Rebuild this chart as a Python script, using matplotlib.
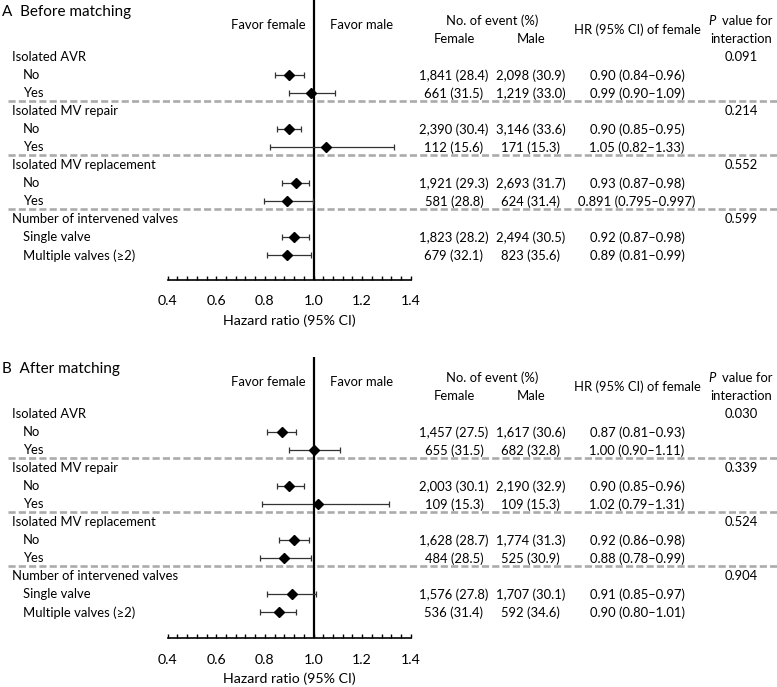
import numpy as np
import matplotlib
matplotlib.use("Agg")
import matplotlib.pyplot as plt
from matplotlib.transforms import blended_transform_factory
from matplotlib.ticker import MultipleLocator, FormatStrFormatter

plt.rcParams["font.family"] = ["Lato", "DejaVu Sans"]

# Row labels (shared by both panels)
row_labels = ["Isolated AVR", "No", "Yes",
              "Isolated MV repair", "No", "Yes",
              "Isolated MV replacement", "No", "Yes",
              "Number of intervened valves", "Single valve", "Multiple valves (\u22652)"]
header_rows = [0, 3, 6, 9]
item_rows = [1, 2, 4, 5, 7, 8, 10, 11]

# Panel A - before matching
hr_a = [0.90, 0.99, 0.90, 1.05, 0.93, 0.891, 0.92, 0.89]
lo_a = [0.84, 0.90, 0.85, 0.82, 0.87, 0.795, 0.87, 0.81]
hi_a = [0.96, 1.09, 0.95, 1.33, 0.98, 0.997, 0.98, 0.99]
female_a = ["1,841 (28.4)", "661 (31.5)", "2,390 (30.4)", "112 (15.6)",
            "1,921 (29.3)", "581 (28.8)", "1,823 (28.2)", "679 (32.1)"]
male_a = ["2,098 (30.9)", "1,219 (33.0)", "3,146 (33.6)", "171 (15.3)",
          "2,693 (31.7)", "624 (31.4)", "2,494 (30.5)", "823 (35.6)"]
hrtxt_a = ["0.90 (0.84\u20130.96)", "0.99 (0.90\u20131.09)", "0.90 (0.85\u20130.95)",
           "1.05 (0.82\u20131.33)", "0.93 (0.87\u20130.98)", "0.891 (0.795\u20130.997)",
           "0.92 (0.87\u20130.98)", "0.89 (0.81\u20130.99)"]
p_a = ["0.091", "0.214", "0.552", "0.599"]

# Panel B - after matching (plotted estimates read from the marks)
hr_b = [0.87, 1.00, 0.90, 1.02, 0.92, 0.88, 0.91, 0.86]
lo_b = [0.81, 0.90, 0.85, 0.79, 0.86, 0.78, 0.81, 0.78]
hi_b = [0.93, 1.11, 0.96, 1.31, 0.98, 0.99, 1.01, 0.93]
female_b = ["1,457 (27.5)", "655 (31.5)", "2,003 (30.1)", "109 (15.3)",
            "1,628 (28.7)", "484 (28.5)", "1,576 (27.8)", "536 (31.4)"]
male_b = ["1,617 (30.6)", "682 (32.8)", "2,190 (32.9)", "109 (15.3)",
          "1,774 (31.3)", "525 (30.9)", "1,707 (30.1)", "592 (34.6)"]
hrtxt_b = ["0.87 (0.81\u20130.93)", "1.00 (0.90\u20131.11)", "0.90 (0.85\u20130.96)",
           "1.02 (0.79\u20131.31)", "0.92 (0.86\u20130.98)", "0.88 (0.78\u20130.99)",
           "0.91 (0.85\u20130.97)", "0.90 (0.80\u20131.01)"]
p_b = ["0.030", "0.339", "0.524", "0.904"]

W, H = 777, 687
fig = plt.figure(figsize=(W / 100, H / 100), dpi=100)

FS = 9.4


def panel(top_px, axis_px, title, hr, lo, hi, fem, mal, hrtxt, pv):
    # axis maps 0.4 -> 167.7 px, 1.4 -> 410.7 px
    row0 = top_px + 57.3
    step = 18.0
    ax = fig.add_axes([167.7 / W, 1 - axis_px / H, 243 / W, (axis_px - top_px) / H])
    ax.set_xlim(0.4, 1.4)
    ax.set_ylim((axis_px - row0) / step, (top_px - row0) / step)
    for s in ["top", "left", "right"]:
        ax.spines[s].set_visible(False)
    ax.spines["bottom"].set_linewidth(1.2)
    ax.set_yticks([])
    ax.xaxis.set_major_locator(MultipleLocator(0.2))
    ax.xaxis.set_minor_locator(MultipleLocator(0.04))
    ax.xaxis.set_major_formatter(FormatStrFormatter("%.1f"))
    ax.tick_params(axis="x", which="both", direction="in", length=3, width=1, pad=11,
                   labelsize=FS + 0.8)
    ax.set_xlabel("Hazard ratio (95% CI)", fontsize=FS + 0.8, labelpad=5)
    ax.patch.set_visible(False)

    ax.axvline(1.0, color="black", lw=1.6, zorder=1)

    y = np.array(item_rows, dtype=float)
    hr = np.array(hr)
    ax.errorbar(hr, y, xerr=[hr - np.array(lo), np.array(hi) - hr], fmt="D",
                color="black", ms=5.5, elinewidth=0.9, capsize=2.5, capthick=0.9,
                ecolor="#333333", zorder=3, clip_on=False)

    tr = blended_transform_factory(fig.transFigure, ax.transData)
    for r, lab in enumerate(row_labels):
        x = 11.7 if r in header_rows else 22.7
        ax.text(x / W, r, lab, transform=tr, ha="left", va="center", fontsize=FS)
    for r, f, m, t in zip(item_rows, fem, mal, hrtxt):
        ax.text(454 / W, r, f, transform=tr, ha="center", va="center", fontsize=FS)
        ax.text(530.7 / W, r, m, transform=tr, ha="center", va="center", fontsize=FS)
        ax.text(637 / W, r, t, transform=tr, ha="center", va="center", fontsize=FS)
    for r, p in zip(header_rows, pv):
        ax.text(741.5 / W, r, p, transform=tr, ha="center", va="center", fontsize=FS)

    # dashed separators
    for r in header_rows[1:]:
        ax.plot([8 / W, 1.0], [r - 0.57, r - 0.57], transform=tr, clip_on=False,
                color="#ababab", lw=1.9, ls=(0, (2.7, 1.2)), zorder=0)

    def yr(px):
        return (px - row0) / step

    ax.text(2 / W, yr(top_px + 12), title, transform=tr, ha="left", va="center",
            fontsize=11)
    ax.text(306 / W, yr(top_px + 25), "Favor female", transform=tr, ha="right",
            va="center", fontsize=FS)
    ax.text(330 / W, yr(top_px + 25), "Favor male", transform=tr, ha="left",
            va="center", fontsize=FS)
    ax.text(492.5 / W, yr(top_px + 20.7), "No. of event (%)", transform=tr,
            ha="center", va="center", fontsize=FS)
    ax.text(454 / W, yr(top_px + 39.3), "Female", transform=tr, ha="center",
            va="center", fontsize=FS)
    ax.text(530.7 / W, yr(top_px + 39.3), "Male", transform=tr, ha="center",
            va="center", fontsize=FS)
    ax.text(637 / W, yr(top_px + 30), "HR (95% CI) of female", transform=tr,
            ha="center", va="center", fontsize=FS)
    ax.text(716 / W, yr(top_px + 20.7), "P", transform=tr, ha="right", va="center",
            fontsize=FS, style="italic")
    ax.text(722 / W, yr(top_px + 20.7), "value for", transform=tr, ha="left",
            va="center", fontsize=FS)
    ax.text(741 / W, yr(top_px + 39.3), "interaction", transform=tr, ha="center",
            va="center", fontsize=FS)
    return ax


panel(0, 280, "A  Before matching", hr_a, lo_a, hi_a, female_a, male_a, hrtxt_a, p_a)
panel(357, 638.3, "B  After matching", hr_b, lo_b, hi_b, female_b, male_b, hrtxt_b, p_b)

fig.savefig("out.png", dpi=100)
